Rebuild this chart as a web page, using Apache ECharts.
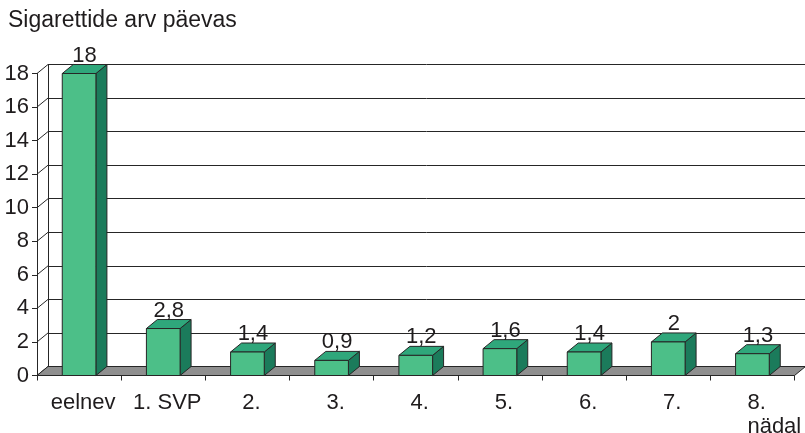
<!DOCTYPE html>
<html>
<head>
<meta charset="utf-8">
<script src="https://cdn.jsdelivr.net/npm/echarts@6/dist/echarts.min.js"></script>
<style>
  html, body { margin: 0; padding: 0; background: #fff; }
  #chart { width: 805px; height: 433px; }
</style>
</head>
<body>
<div id="chart"></div>
<script>
// Cigarettes smoked per day, before quitting and during the following weeks
const chartTitle = 'Sigarettide arv päevas';
const categories = ['eelnev', '1. SVP', '2.', '3.', '4.', '5.', '6.', '7.', '8.\nnädal'];
const cigarettesPerDay = [18, 2.8, 1.4, 0.9, 1.2, 1.6, 1.4, 2, 1.3];
const yTicks = [0, 2, 4, 6, 8, 10, 12, 14, 16, 18];

// depth offset of the pseudo-3D box (towards the back wall)
const DX = 11, DY = -9;
const FONT = '"Liberation Sans", Arial, Helvetica, sans-serif';
const INK = '#1f1c1d';
const EDGE = '#262626';
const FRONT = '#4cbf88', TOP = '#2fa77b', SIDE = '#1b7b5b', FLOOR = '#8f8f8f';

const fmt = v => String(v).replace('.', ',');

const chart = echarts.init(document.getElementById('chart'), null, { renderer: 'canvas' });

const frontGrid = { left: 37, top: 73.5, width: 757.5, height: 302 };
const backGrid = { left: 37 + DX, top: 73.5 + DY, width: 757.5, height: 302 };

chart.setOption({
  animation: false,
  backgroundColor: '#ffffff',
  title: {
    text: chartTitle,
    left: 8,
    top: 9,
    padding: 0,
    textStyle: { fontFamily: FONT, fontSize: 23, fontWeight: 'normal', color: INK }
  },
  grid: [frontGrid, backGrid],
  xAxis: [
    {
      type: 'category', gridIndex: 0, data: categories,
      axisLine: { lineStyle: { color: EDGE, width: 1 } },
      axisTick: { show: true, length: 5, lineStyle: { color: EDGE } },
      axisLabel: { show: false },
      splitLine: { show: false }
    },
    { type: 'category', gridIndex: 1, data: categories, show: false }
  ],
  yAxis: [
    {
      type: 'value', gridIndex: 0, min: 0, max: 18, interval: 2,
      axisLine: { show: true, lineStyle: { color: EDGE, width: 1 } },
      axisTick: { show: true, length: 5, lineStyle: { color: EDGE } },
      axisLabel: {
        fontFamily: FONT, fontSize: 22, color: INK, margin: 8,
        formatter: v => (yTicks.indexOf(v) >= 0 ? fmt(v) : '')
      },
      splitLine: { show: false }
    },
    {
      type: 'value', gridIndex: 1, min: 0, max: 18, interval: 2,
      axisLine: { show: true, lineStyle: { color: EDGE, width: 1 } },
      axisTick: { show: false },
      axisLabel: { show: false },
      splitLine: { show: true, lineStyle: { color: EDGE, width: 1 } }
    }
  ],
  series: [
    {
      // left wall: diagonal lines joining front ticks to back grid lines
      type: 'custom', xAxisIndex: 0, yAxisIndex: 0, z: 3,
      data: yTicks.map(v => [0, v]),
      renderItem: (params, api) => {
        const y = api.coord([0, api.value(1)])[1];
        const x = params.coordSys.x;
        return {
          type: 'line',
          shape: { x1: x, y1: y, x2: x + DX, y2: y + DY },
          style: { stroke: EDGE, lineWidth: 1 }
        };
      }
    },
    {
      // grey floor
      type: 'custom', xAxisIndex: 0, yAxisIndex: 0, z: 4,
      data: [[0, 0]],
      renderItem: (params, api) => {
        const cs = params.coordSys;
        const y0 = api.coord([0, 0])[1];
        const xl = cs.x, xr = cs.x + cs.width;
        return {
          type: 'polygon',
          shape: { points: [[xl, y0], [xr, y0], [xr + DX, y0 + DY], [xl + DX, y0 + DY]] },
          style: { fill: FLOOR, stroke: EDGE, lineWidth: 1 }
        };
      }
    },
    {
      // 3D bars with value and category labels
      type: 'custom', xAxisIndex: 0, yAxisIndex: 0, z: 5,
      data: cigarettesPerDay.map((v, i) => [i, v]),
      renderItem: (params, api) => {
        const idx = api.value(0);
        const val = api.value(1);
        const top = api.coord([idx, val]);
        const base = api.coord([idx, 0]);
        const w = api.size([1, 0])[0] * 0.4;
        const x0 = top[0] - w / 2, x1 = top[0] + w / 2;
        const yt = top[1], yb = base[1];
        const label = categories[idx];
        const multi = label.indexOf('\n') >= 0;
        return {
          type: 'group',
          children: [
            {
              type: 'polygon',
              shape: { points: [[x1, yt], [x1 + DX, yt + DY], [x1 + DX, yb + DY], [x1, yb]] },
              style: { fill: SIDE, stroke: EDGE, lineWidth: 1 }
            },
            {
              type: 'polygon',
              shape: { points: [[x0, yt], [x1, yt], [x1 + DX, yt + DY], [x0 + DX, yt + DY]] },
              style: { fill: TOP, stroke: EDGE, lineWidth: 1 }
            },
            {
              type: 'rect',
              shape: { x: x0, y: yt, width: w, height: yb - yt },
              style: { fill: FRONT, stroke: EDGE, lineWidth: 1 }
            },
            {
              type: 'text',
              style: {
                x: top[0] + DX / 2, y: yt + DY + 2,
                text: fmt(val),
                align: 'center', verticalAlign: 'bottom',
                fontFamily: FONT, fontSize: 22, fill: INK
              }
            },
            {
              type: 'text',
              style: {
                x: multi ? top[0] - 5 : top[0] + 4, y: yb + 15,
                text: label,
                align: multi ? 'left' : 'center', verticalAlign: 'top',
                lineHeight: 24,
                fontFamily: FONT, fontSize: 22, fill: INK
              }
            }
          ]
        };
      }
    }
  ]
});
</script>
</body>
</html>
